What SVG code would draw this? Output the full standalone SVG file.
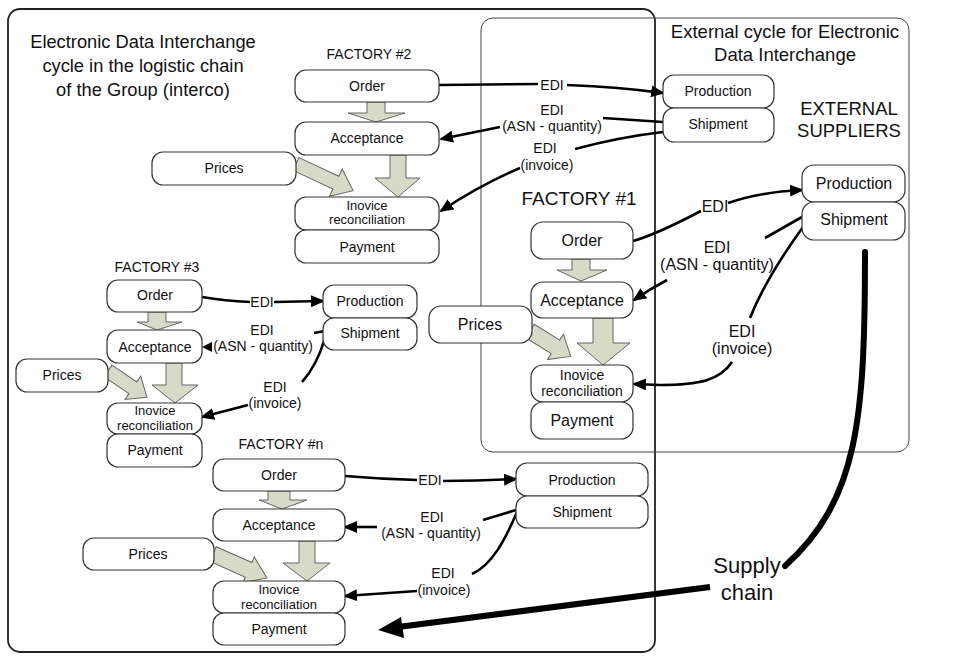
<svg xmlns="http://www.w3.org/2000/svg" width="960" height="664" viewBox="0 0 960 664">
<defs>
<marker id="ah" markerUnits="userSpaceOnUse" markerWidth="14" markerHeight="12" refX="12" refY="6" orient="auto">
<path d="M0,0 L14,6 L0,12 z" fill="#000"/>
</marker>
<style>
text{font-family:"Liberation Sans",Arial,sans-serif;fill:#111;text-anchor:middle}
.box{fill:#fff;stroke:#333;stroke-width:1.2}
.blk{fill:#d6dac6;stroke:#666;stroke-width:1}
.edi{fill:none;stroke:#000;stroke-width:2.6}
.s13{font-size:13px}
.s14{font-size:14px}
.s16{font-size:16px}
</style>
</defs>
<rect width="960" height="664" fill="#fff"/>

<g id="containers">
<rect x="8" y="9" width="647" height="643" rx="12" fill="none" stroke="#222" stroke-width="1.8"/>
<rect x="481" y="18" width="428" height="434" rx="12" fill="none" stroke="#444" stroke-width="1"/>
<text x="143" y="48" font-size="18.3">Electronic Data Interchange</text>
<text x="143" y="72" font-size="18.3">cycle in the logistic chain</text>
<text x="143" y="96" font-size="18.3">of the Group (interco)</text>
<text x="785" y="38" font-size="18.5">External cycle for Electronic</text>
<text x="785" y="61" font-size="18.5">Data Interchange</text>
<text x="849" y="115" font-size="18.5">EXTERNAL</text>
<text x="849" y="137" font-size="18.5">SUPPLIERS</text>
<text x="369" y="59" class="s14">FACTORY #2</text>
<text x="579" y="205" font-size="19">FACTORY #1</text>
<text x="157" y="272" class="s14">FACTORY #3</text>
<text x="281" y="449" class="s14">FACTORY #n</text>
</g>

<g id="connectors">
<!-- block arrows -->
<polygon class="blk" points="367,102 385,102 385,113 405,113 376,122 348,113 367,113"/>
<polygon class="blk" points="390,155 406,155 406,178 420,178 398,197 375,178 390,178"/>
<polygon class="blk" transform="translate(296,164) rotate(25)" points="0,-7 44,-7 44,-15 63,0 44,15 44,7 0,7"/>
<polygon class="blk" points="572,259 590,259 590,270 607,270 581,281 557,270 572,270"/>
<polygon class="blk" points="593,318 613,318 613,343 630,343 603,365 577,343 593,343"/>
<polygon class="blk" transform="translate(530,331) rotate(32)" points="0,-8 30,-8 30,-15 48,0 30,15 30,8 0,8"/>
<polygon class="blk" points="148,312 166,312 166,322 182,322 157,330 137,322 148,322"/>
<polygon class="blk" points="166,363 182,363 182,385 198,385 175,403 152,385 166,385"/>
<polygon class="blk" transform="translate(108,371) rotate(34)" points="0,-7 30,-7 30,-14 47,0 30,14 30,7 0,7"/>
<polygon class="blk" points="268,491 290,491 290,500 307,500 282,509 259,500 268,500"/>
<polygon class="blk" points="299,541 315,541 315,563 330,563 307,581 283,563 299,563"/>
<polygon class="blk" transform="translate(213,554) rotate(24)" points="0,-8 39,-8 39,-14 59,0 39,14 39,8 0,8"/>

<!-- Factory #2 EDI -->
<path class="edi" d="M439,85 L538,84"/>
<path class="edi" d="M567,85 Q620,87 663,93" marker-end="url(#ah)"/>
<text x="552" y="90" class="s14">EDI</text>
<path class="edi" d="M663,122 L603,118"/>
<path class="edi" d="M500,127 L441,139" marker-end="url(#ah)"/>
<text x="552" y="115" class="s14">EDI</text>
<text x="552" y="131" class="s14">(ASN - quantity)</text>
<path class="edi" d="M663,132 Q620,137 575,149"/>
<path class="edi" d="M520,168 Q480,185 441,211" marker-end="url(#ah)"/>
<text x="545" y="153" class="s14">EDI</text>
<text x="547" y="170" class="s14">(invoice)</text>

<!-- Factory #1 EDI -->
<path class="edi" d="M633,241 Q655,235 701,211"/>
<path class="edi" d="M728,203 Q760,192 802,190" marker-end="url(#ah)"/>
<text x="715" y="212" class="s16">EDI</text>
<path class="edi" d="M802,217 L765,238"/>
<path class="edi" d="M667,280 Q650,289 634,300" marker-end="url(#ah)"/>
<text x="717" y="253" class="s16">EDI</text>
<text x="717" y="270" class="s16">(ASN - quantity)</text>
<path class="edi" d="M803,227 C790,245 765,280 750,318"/>
<path class="edi" d="M732,362 C720,380 700,385 660,385 L634,384" marker-end="url(#ah)"/>
<text x="742" y="337" class="s16">EDI</text>
<text x="742" y="354" class="s16">(invoice)</text>

<!-- Factory #3 EDI -->
<path class="edi" d="M202,297 Q225,301 250,302"/>
<path class="edi" d="M274,302 L323,301" marker-end="url(#ah)"/>
<text x="262" y="307" class="s14">EDI</text>
<path class="edi" d="M325,331 L314,333"/>
<polygon points="202,347 212,342 212,352" fill="#000"/>
<text x="262" y="335" class="s14">EDI</text>
<text x="263" y="351" class="s14">(ASN - quantity)</text>
<path class="edi" d="M325,338 C320,355 313,370 302,382"/>
<path class="edi" d="M248,405 L202,417" marker-end="url(#ah)"/>
<text x="275" y="392" class="s14">EDI</text>
<text x="275" y="408" class="s14">(invoice)</text>

<!-- Factory #n EDI -->
<path class="edi" d="M345,476 Q380,479 417,480"/>
<path class="edi" d="M443,481 Q480,481 516,479" marker-end="url(#ah)"/>
<text x="430" y="485" class="s14">EDI</text>
<path class="edi" d="M516,510 L483,520"/>
<path class="edi" d="M377,527 L345,527" marker-end="url(#ah)"/>
<text x="432" y="522" class="s14">EDI</text>
<text x="431" y="538" class="s14">(ASN - quantity)</text>
<path class="edi" d="M517,512 C505,540 492,565 472,574"/>
<path class="edi" d="M417,591 L345,596" marker-end="url(#ah)"/>
<text x="443" y="578" class="s14">EDI</text>
<text x="444" y="595" class="s14">(invoice)</text>

<!-- Supply chain -->
<path d="M865,252 C865,420 858,500 785,566" fill="none" stroke="#000" stroke-width="6" stroke-linecap="round"/>
<path d="M710,587 L398,627" fill="none" stroke="#000" stroke-width="6"/>
<polygon points="378,630 401,617 404,638" fill="#000"/>
<text x="747" y="573" font-size="22">Supply</text>
<text x="747" y="600" font-size="22">chain</text>
</g>

<g id="f2-order"><rect class="box" x="295" y="70" width="144" height="32" rx="11"/><text x="367" y="91" class="s14">Order</text></g>
<g id="f2-acceptance"><rect class="box" x="295" y="122" width="144" height="33" rx="11"/><text x="367" y="143" class="s14">Acceptance</text></g>
<g id="f2-invoice"><rect class="box" x="295" y="197" width="144" height="33" rx="11"/><text x="367" y="209.5" class="s13">Inovice</text><text x="367" y="224" class="s13">reconciliation</text></g>
<g id="f2-payment"><rect class="box" x="295" y="230" width="144" height="33" rx="11"/><text x="367" y="252" class="s14">Payment</text></g>
<g id="f2-prices"><rect class="box" x="152" y="152" width="144" height="33" rx="11"/><text x="224" y="173" class="s14">Prices</text></g>

<g id="ext1-production"><rect class="box" x="663" y="75" width="111" height="33" rx="11"/><text x="718" y="96" class="s14">Production</text></g>
<g id="ext1-shipment"><rect class="box" x="663" y="108" width="111" height="34" rx="11"/><text x="718" y="129" class="s14">Shipment</text></g>

<g id="f1-order"><rect class="box" x="531" y="222" width="102" height="37" rx="12"/><text x="582" y="246" class="s16">Order</text></g>
<g id="f1-acceptance"><rect class="box" x="531" y="282" width="102" height="36" rx="12"/><text x="582" y="306" class="s16">Acceptance</text></g>
<g id="f1-invoice"><rect class="box" x="531" y="365" width="102" height="37" rx="12"/><text x="582" y="380" class="s14">Inovice</text><text x="582" y="395.5" class="s14">reconciliation</text></g>
<g id="f1-payment"><rect class="box" x="531" y="402" width="102" height="37" rx="12"/><text x="582" y="426" class="s16">Payment</text></g>
<g id="f1-prices"><rect class="box" x="429" y="306" width="103" height="37" rx="12"/><text x="480" y="330" class="s16">Prices</text></g>

<g id="ext2-production"><rect class="box" x="802" y="165" width="103" height="37" rx="12"/><text x="854" y="189" class="s16">Production</text></g>
<g id="ext2-shipment"><rect class="box" x="802" y="202" width="103" height="38" rx="12"/><text x="854" y="225" class="s16">Shipment</text></g>

<g id="f3-order"><rect class="box" x="107" y="280" width="95" height="32" rx="11"/><text x="155" y="300" class="s14">Order</text></g>
<g id="f3-acceptance"><rect class="box" x="107" y="330" width="95" height="33" rx="11"/><text x="155" y="352" class="s14">Acceptance</text></g>
<g id="f3-invoice"><rect class="box" x="107" y="403" width="95" height="31" rx="11"/><text x="155" y="415" class="s13">Inovice</text><text x="155" y="429.5" class="s13">reconciliation</text></g>
<g id="f3-payment"><rect class="box" x="107" y="434" width="95" height="33" rx="11"/><text x="155" y="455" class="s14">Payment</text></g>
<g id="f3-prices"><rect class="box" x="16" y="359" width="92" height="33" rx="11"/><text x="62" y="380" class="s14">Prices</text></g>
<g id="f3-production"><rect class="box" x="323" y="285" width="94" height="33" rx="11"/><text x="370" y="306" class="s14">Production</text></g>
<g id="f3-shipment"><rect class="box" x="323" y="318" width="94" height="32" rx="11"/><text x="370" y="338" class="s14">Shipment</text></g>

<g id="fn-order"><rect class="box" x="213" y="459" width="132" height="32" rx="11"/><text x="279" y="480" class="s14">Order</text></g>
<g id="fn-acceptance"><rect class="box" x="213" y="509" width="132" height="32" rx="11"/><text x="279" y="530" class="s14">Acceptance</text></g>
<g id="fn-invoice"><rect class="box" x="213" y="581" width="132" height="32" rx="11"/><text x="279" y="594" class="s13">Inovice</text><text x="279" y="608.5" class="s13">reconciliation</text></g>
<g id="fn-payment"><rect class="box" x="213" y="613" width="132" height="32" rx="11"/><text x="279" y="634" class="s14">Payment</text></g>
<g id="fn-prices"><rect class="box" x="83" y="538" width="131" height="32" rx="11"/><text x="148" y="559" class="s14">Prices</text></g>
<g id="fn-production"><rect class="box" x="516" y="463" width="132" height="33" rx="11"/><text x="582" y="485" class="s14">Production</text></g>
<g id="fn-shipment"><rect class="box" x="516" y="496" width="132" height="32" rx="11"/><text x="582" y="517" class="s14">Shipment</text></g>
</svg>
